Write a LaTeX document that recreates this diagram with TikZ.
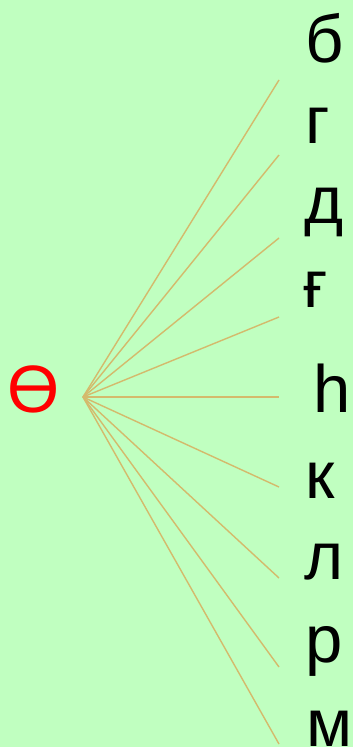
\documentclass[tikz,border=0pt]{standalone}
\usepackage{fontspec}
\setmainfont{Liberation Sans}
\definecolor{bg}{RGB}{192,255,192}
\definecolor{ln}{RGB}{212,186,108}
\begin{document}
\begin{tikzpicture}[x=1pt,y=-1pt,
  let/.style={anchor=base west,inner sep=0pt,font=\fontsize{67}{67}\selectfont},
  conn/.style={draw=ln,line width=1.4pt}]
\fill[bg] (0,0) rectangle (353,747);
\useasboundingbox (0,0) rectangle (353,747);
\node[let,text=red] (o) at (7,412) {Ө};
\coordinate (c) at (83,397);
\node[let] (l1) at (305,62) {б};
\node[let] (l2) at (305,143) {г};
\node[let] (l3) at (304,223) {д};
\node[let] (l4) at (303,307) {ғ};
\node[let] (l5) at (313,412) {һ};
\node[let] (l6) at (305,498) {к};
\node[let] (l7) at (304,579) {л};
\node[let] (l8) at (305,662) {р};
\node[let] (l9) at (306,746) {м};
\coordinate (e1) at (279,80);
\coordinate (e2) at (279,155);
\coordinate (e3) at (279,238);
\coordinate (e4) at (279,317);
\coordinate (e5) at (279,397);
\coordinate (e6) at (279,487);
\coordinate (e7) at (279,578);
\coordinate (e8) at (279,667);
\coordinate (e9) at (279,744);
\foreach \i in {1,...,9} \draw[conn] (c) -- (e\i);
\end{tikzpicture}
\end{document}
